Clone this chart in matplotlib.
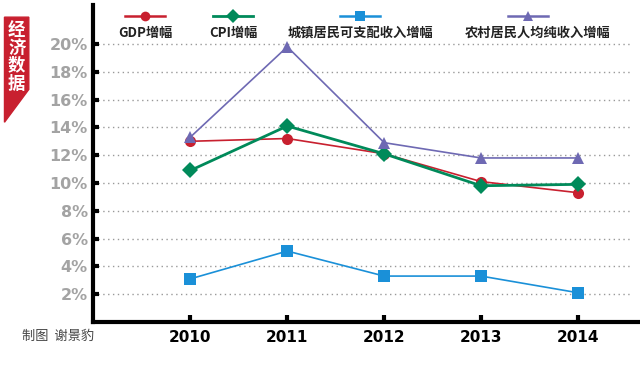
import matplotlib.pyplot as plt
from matplotlib.lines import Line2D
from matplotlib.patches import Polygon

plt.rcParams['font.family'] = ['Noto Sans CJK SC', 'DejaVu Sans']

# Data (percent growth)
years = [2010, 2011, 2012, 2013, 2014]
gdp = [13.0, 13.2, 12.1, 10.1, 9.3]
cpi = [10.9, 14.1, 12.1, 9.8, 9.9]
urban = [3.1, 5.1, 3.3, 3.3, 2.1]
rural = [13.3, 19.8, 12.9, 11.8, 11.8]
series_names = ["GDP增幅", "CPI增幅", "城镇居民可支配收入增幅", "农村居民人均纯收入增幅"]
yticks = [2, 4, 6, 8, 10, 12, 14, 16, 18, 20]

colors = ["#c8202f", "#008a5a", "#1a90d8", "#6e69b3"]
markers = ["o", "D", "s", "^"]
widths = [1.2, 2.0, 1.2, 1.2]
msizes = [8, 8, 8, 9]

fig = plt.figure(figsize=(6.4, 3.65), dpi=100)
ax = fig.add_axes([0.146, 0.118, 0.854, 0.868])

for vals, c, m, lw, ms in zip([gdp, cpi, urban, rural], colors, markers, widths, msizes):
    ax.plot(years, vals, color=c, marker=m, lw=lw, ms=ms, markeredgewidth=0)

ax.set_xlim(2009.0, 2014.64)
ax.set_ylim(0, 22.8)
ax.set_yticks(yticks)
ax.set_yticklabels([f"{v}%" for v in yticks], color="#a3a3a3", fontsize=11.5,
                   fontweight="bold", family=["DejaVu Sans"])
ax.set_xticks(years)
ax.set_xticklabels([str(y) for y in years], fontsize=11, fontweight="bold",
                   family=["DejaVu Sans"])
for v in yticks:
    ax.axhline(v, xmin=0, xmax=0.985, color="#999999", lw=1, ls=(0, (1, 2.5)), zorder=0)

ax.tick_params(axis="y", direction="in", length=4, width=3, pad=4)
ax.tick_params(axis="x", direction="in", length=5, width=3, pad=6)
for s in ["top", "right"]:
    ax.spines[s].set_visible(False)
for s in ["left", "bottom"]:
    ax.spines[s].set_linewidth(3)

# legend drawn manually above plot
leg_x = [0.227, 0.364, 0.563, 0.825]
txt_x = [0.227, 0.364, 0.563, 0.84]
for x, tx, c, m, lw, name in zip(leg_x, txt_x, colors, markers, widths, series_names):
    fig.add_artist(Line2D([x - 0.031, x + 0.031], [0.957, 0.957], color=c, lw=max(lw, 1.8),
                          transform=fig.transFigure))
    fig.add_artist(Line2D([x], [0.957], color=c, marker=m, ms=7, markeredgewidth=0,
                          transform=fig.transFigure))
    fig.text(tx, 0.91, name, ha="center", va="center", fontsize=9.5, fontweight="bold",
             color="#222222")

# red banner on the left
banner = Polygon([[0.007, 0.953], [0.045, 0.953], [0.045, 0.755], [0.007, 0.665]],
                 closed=True, transform=fig.transFigure, color="#c8202f")
fig.add_artist(banner)
fig.text(0.026, 0.845, "经\n济\n数\n据", ha="center", va="center", color="white",
         fontsize=12.5, fontweight="bold", linespacing=1.0)

fig.text(0.035, 0.077, "制图  谢景豹", ha="left", va="center", fontsize=9.5, color="#444444")

fig.savefig("out.png", dpi=100)
